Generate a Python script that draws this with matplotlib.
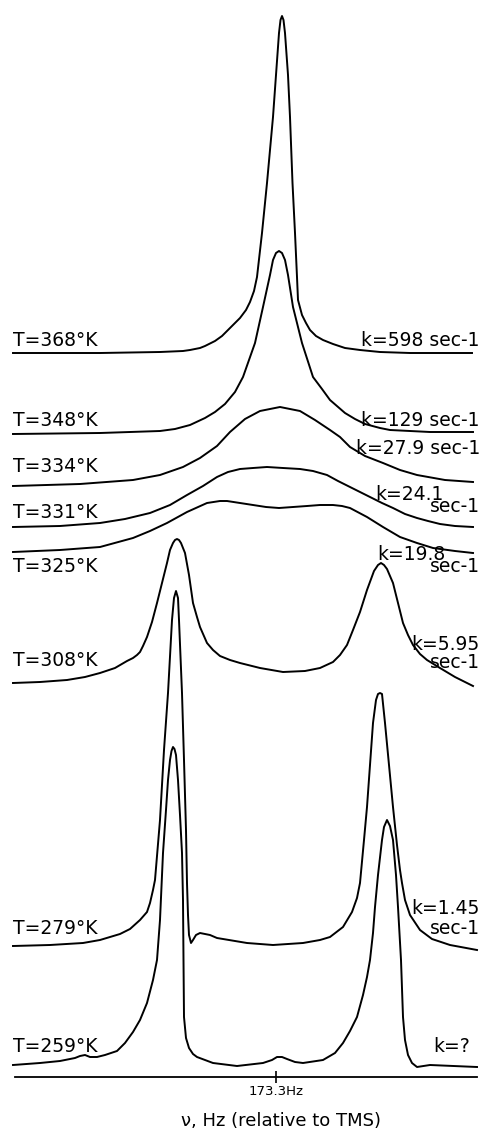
'''
Dynamic NMR spectra: line shape vs. temperature (exchange rate k)
'''

import matplotlib.pyplot as plt

# Spectra: x = position along the frequency axis,
# y = trace height above the frequency axis (both in chart units)
x_368 = [13, 100, 160, 183, 190, 200, 205, 215, 222, 230, 240, 246, 250, 254, 257, 262, 267,
         273, 276, 279, 280.5, 282, 283.5, 285, 288, 290, 292.5, 295, 297, 298, 302, 306, 310,
         316, 323, 333, 345, 360, 380, 410, 440, 472]
y_368 = [724, 724, 725, 726, 727, 729, 731, 736, 741, 749, 759, 767, 775, 786, 800, 844, 894,
         960, 1002, 1044, 1057, 1061, 1057, 1044, 1002, 960, 894, 844, 800, 777, 762, 754, 747,
         741, 737, 733, 729, 727, 725, 724, 724, 724]

x_348 = [13, 100, 160, 175, 190, 205, 215, 225, 235, 243, 255, 263, 270, 273, 276, 279, 282,
         285, 288, 293, 302, 313, 322, 330, 345, 355, 365, 380, 390, 430, 473]
y_348 = [643, 644, 646, 648, 652, 659, 665, 673, 685, 700, 734, 770, 802, 817, 824, 826, 824,
         817, 802, 770, 734, 700, 688, 677, 664, 658, 653, 649, 647, 645, 645]

x_334 = [13, 80, 133, 160, 183, 200, 217, 230, 245, 260, 280, 300, 315, 330, 340, 350, 365,
         383, 400, 417, 445, 473]
y_334 = [591, 593, 597, 602, 610, 619, 631, 645, 658, 666, 670, 666, 657, 647, 640, 630, 621,
         614, 607, 602, 597, 595]

x_331 = [13, 60, 100, 125, 150, 170, 187, 203, 217, 228, 240, 253, 267, 283, 300, 313, 327,
         338, 350, 360, 370, 382, 393, 405, 417, 428, 440, 455, 473]
y_331 = [550, 551, 554, 558, 564, 572, 582, 591, 600, 605, 608, 609, 610, 609, 608, 606, 602,
         596, 590, 585, 580, 574, 569, 563, 559, 556, 553, 551, 550]

x_325 = [13, 60, 100, 133, 150, 167, 187, 207, 220, 227, 240, 253, 266, 279, 293, 307, 320,
         333, 342, 350, 367, 383, 400, 417, 433, 455, 473]
y_325 = [525, 527, 530, 539, 546, 554, 565, 574, 576, 576, 574, 572, 570, 569, 570, 571, 572,
         572, 571, 569, 560, 550, 540, 534, 529, 526, 524]

x_308 = [13, 40, 67, 85, 100, 115, 127, 133, 137, 140, 143, 147, 152, 157, 162, 167, 170, 173,
         175, 177, 179, 181, 185, 189, 193, 197, 200, 207, 213, 220, 230, 240, 260, 283, 305,
         320, 333, 340, 347, 353, 360, 367, 374, 378, 381, 384, 387, 393, 398, 403, 408, 413,
         420, 427, 440, 455, 473]
y_308 = [394, 395, 397, 400, 404, 409, 416, 419, 422, 425, 431, 440, 455, 474, 494, 514, 527,
         534, 537, 538, 537, 534, 524, 502, 474, 460, 450, 434, 427, 421, 417, 414, 409, 405,
         406, 409, 415, 422, 432, 447, 465, 487, 506, 512, 514, 512, 508, 494, 474, 454, 442,
         432, 423, 417, 409, 400, 391]

x_279 = [13, 50, 83, 100, 110, 120, 130, 140, 147, 150, 153, 155, 160, 164, 168, 172, 174, 176,
         178, 179, 182, 184, 186, 187, 188, 189, 191, 193, 196, 200, 210, 217, 247, 273, 303,
         320, 330, 343, 352, 357, 360, 364, 367, 370, 373, 376, 378, 380, 382, 385, 389, 393,
         397, 400, 402, 405, 410, 420, 432, 450, 477]
y_279 = [131, 132, 134, 137, 140, 143, 148, 157, 165, 174, 187, 197, 257, 327, 384, 457, 479,
         486, 479, 457, 384, 317, 247, 194, 162, 142, 134, 137, 142, 144, 142, 139, 134, 132,
         134, 137, 140, 150, 165, 179, 194, 237, 270, 312, 354, 377, 383, 384, 383, 354, 312,
         270, 232, 207, 194, 177, 162, 147, 138, 132, 127]

x_259 = [13, 40, 60, 75, 80, 85, 90, 97, 105, 117, 125, 133, 140, 147, 153, 157, 160, 163,
         166, 168, 170, 171.5, 173, 174.5, 176, 178, 180, 182, 183, 183.5, 184, 186, 189, 193,
         197, 213, 237, 263, 272, 277, 282, 287, 295, 303, 323, 335, 343, 350, 357, 363, 367,
         370, 373, 375, 378, 382, 384, 387, 390, 393, 396, 398, 401, 403, 405, 408, 412, 417,
         430, 477]
y_259 = [12, 14, 16, 19, 21, 22, 20, 20, 22, 26, 34, 45, 57, 74, 97, 117, 157, 224,
         267, 297, 317, 326, 330, 328, 322, 297, 262, 224, 177, 117, 60, 39, 29, 23,
         20, 14, 11, 14, 17, 20, 20, 18, 15, 14, 17, 24, 34, 46, 60, 82, 100,
         117, 144, 170, 202, 237, 250, 257, 251, 237, 202, 170, 117, 60, 37, 22, 14, 10,
         12, 10]

temps = ['T=368°K', 'T=348°K', 'T=334°K', 'T=331°K', 'T=325°K', 'T=308°K', 'T=279°K', 'T=259°K']
rates = ['k=598 sec-1', 'k=129 sec-1', 'k=27.9 sec-1', 'k=24.1', 'k=19.8', 'k=5.95', 'k=1.45', 'k=?']

center_tick = 276
center_label = '173.3Hz'

spectra = [(x_368, y_368), (x_348, y_348), (x_334, y_334), (x_331, y_331),
           (x_325, y_325), (x_308, y_308), (x_279, y_279), (x_259, y_259)]

fig = plt.figure(figsize=(4.85, 11.35), dpi=100)
ax = fig.add_axes([0, 0, 1, 1])
ax.set_xlim(0, 485)
ax.set_ylim(-58, 1077)

for xs, ys in spectra:
    ax.plot(xs, ys, color='black', lw=1.4, solid_joinstyle='round')

fs = 13.5

# temperature labels on the left
temp_y = [736, 657, 611, 565, 511, 416, 148, 31]
for label, ty in zip(temps, temp_y):
    ax.text(13, ty, label, ha='left', va='center', fontsize=fs)

# rate labels on the right (some split on two lines)
ax.text(480, 736, rates[0], ha='right', va='center', fontsize=fs)
ax.text(480, 657, rates[1], ha='right', va='center', fontsize=fs)
ax.text(480, 629, rates[2], ha='right', va='center', fontsize=fs)
ax.text(375, 583, rates[3], ha='left', va='center', fontsize=fs)
ax.text(480, 570, 'sec-1', ha='right', va='center', fontsize=fs)
ax.text(377, 523, rates[4], ha='left', va='center', fontsize=fs)
ax.text(480, 510, 'sec-1', ha='right', va='center', fontsize=fs)
ax.text(480, 432, rates[5], ha='right', va='center', fontsize=fs)
ax.text(480, 414, 'sec-1', ha='right', va='center', fontsize=fs)
ax.text(480, 169, rates[6], ha='right', va='center', fontsize=fs)
ax.text(480, 149, 'sec-1', ha='right', va='center', fontsize=fs)
ax.text(470, 31, rates[7], ha='right', va='center', fontsize=fs)

# frequency axis
for side in ['top', 'left', 'right']:
    ax.spines[side].set_visible(False)
ax.spines['bottom'].set_position(('data', 0))
ax.spines['bottom'].set_bounds(15, 477)
ax.spines['bottom'].set_linewidth(1.3)
ax.set_yticks([])
ax.set_xticks([center_tick])
ax.set_xticklabels([center_label])
ax.tick_params(axis='x', direction='inout', length=8, width=1.2, labelsize=9.5, pad=2)
ax.text(281, -44, 'ν, Hz (relative to TMS)', ha='center', va='center', fontsize=13)

fig.savefig('out.png', dpi=100)
